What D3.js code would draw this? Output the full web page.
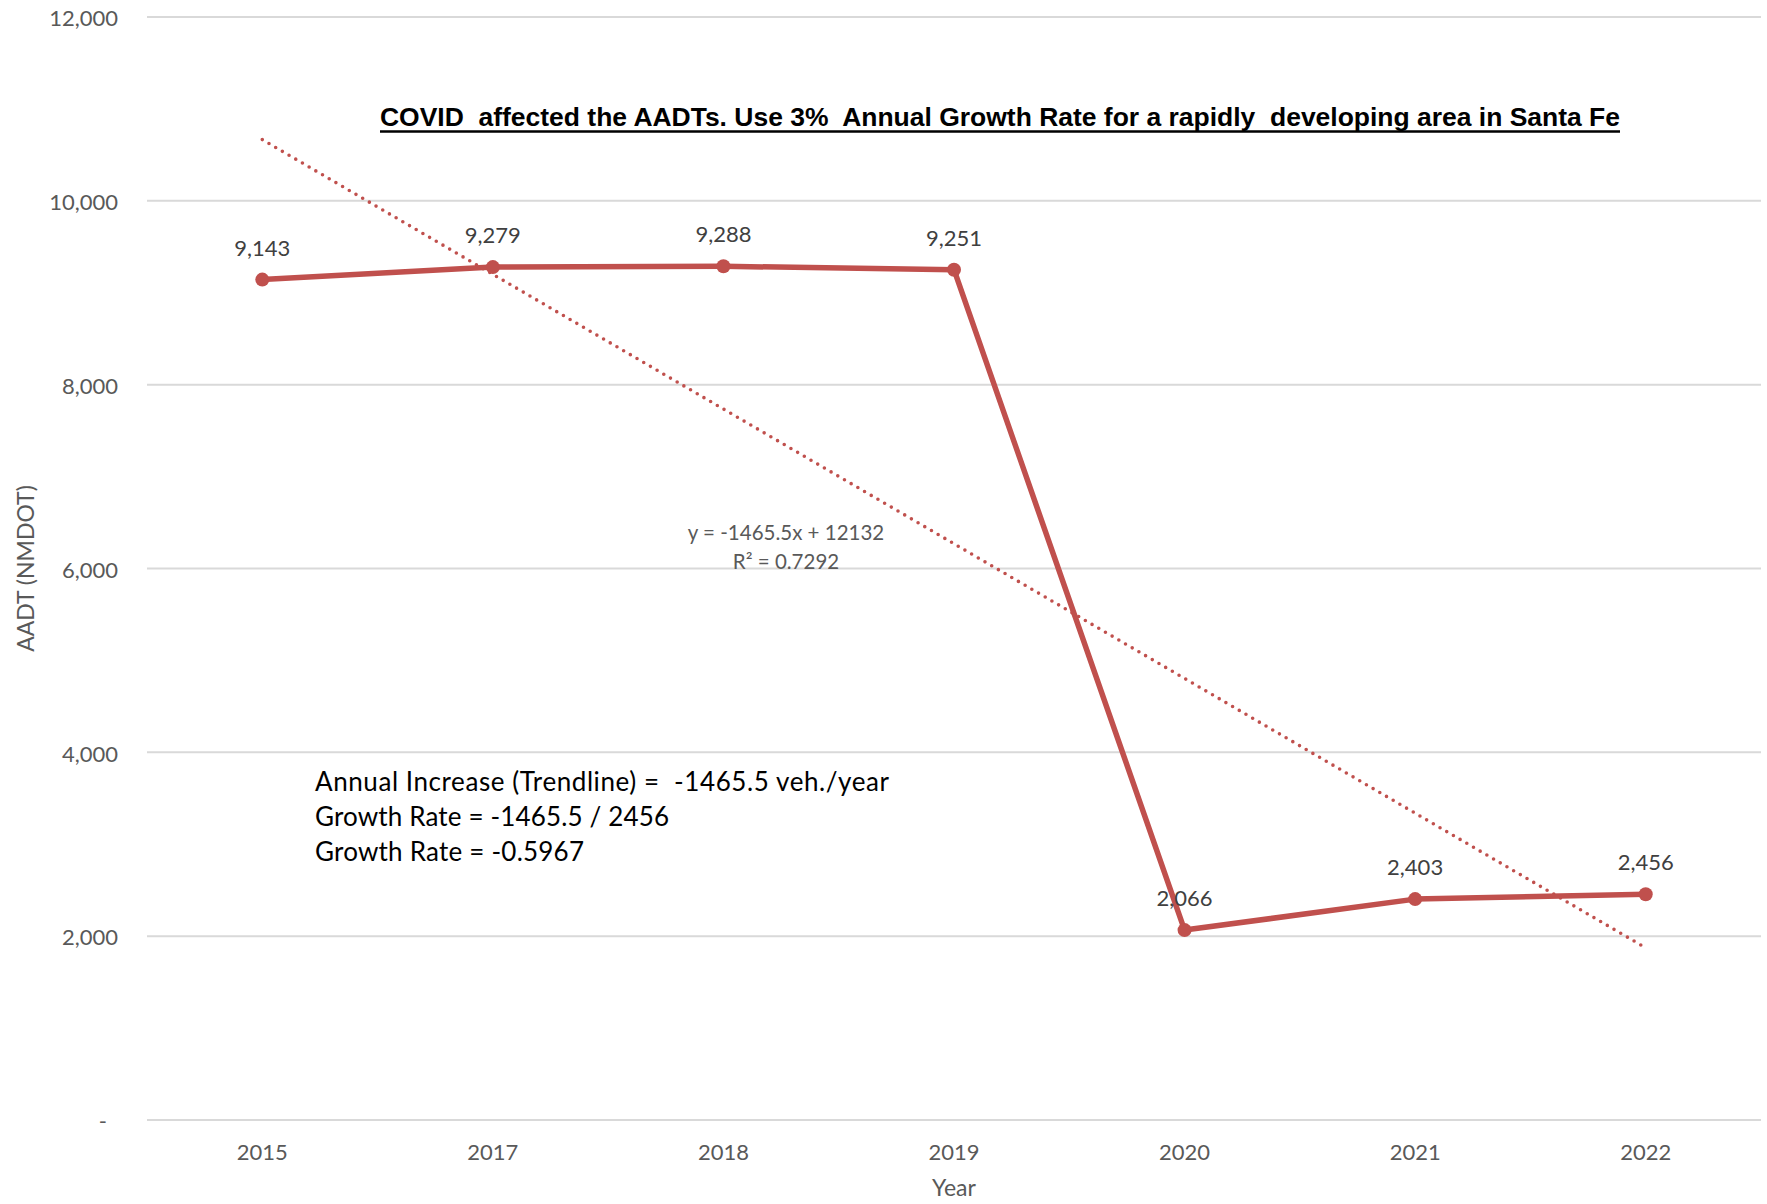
<!DOCTYPE html>
<html>
<head>
<meta charset="utf-8">
<script src="https://cdn.jsdelivr.net/npm/d3@7"></script>
<style>
  html, body { margin: 0; padding: 0; background: #fff; }
  svg { display: block; }
  text { white-space: pre; }
</style>
</head>
<body>
<div id="chart"></div>
<script>
// ---- Data ----
const years = ["2015", "2017", "2018", "2019", "2020", "2021", "2022"];
const aadt = [9143, 9279, 9288, 9251, 2066, 2403, 2456];
const yTicks = [0, 2000, 4000, 6000, 8000, 10000, 12000];
const titleText = "COVID  affected the AADTs. Use 3%  Annual Growth Rate for a rapidly  developing area in Santa Fe";
const noteLines = [
  "Annual Increase (Trendline) =  -1465.5 veh./year",
  "Growth Rate = -1465.5 / 2456",
  "Growth Rate = -0.5967"
];
const noteWidths = [574, 354, 269];
const r2Text = "R\u00B2 = 0.7292";
const yAxisTitle = "AADT (NMDOT)";
const xAxisTitle = "Year";

// ---- Layout ----
const W = 1767, H = 1204;
const plotL = 147, plotR = 1761, plotT = 17, plotB = 1120;
const red = "#C0504D";
const font = "Lato, 'Open Sans', sans-serif";

const svg = d3.select("#chart").append("svg")
  .attr("width", W).attr("height", H);

const x = d3.scaleBand().domain(years).range([plotL, plotR]).padding(0);
const y = d3.scaleLinear().domain([0, 12000]).range([plotB, plotT]);
const cx = d => x(d) + x.bandwidth() / 2;
const fmtInt = d3.formatLocale({decimal: ".", thousands: ",", grouping: [3], currency: ["", ""], minus: "-"});
const fmtComma = fmtInt.format(",");
const fmt1 = fmtInt.format(".1f");

// Gridlines
svg.append("g").selectAll("line").data(yTicks).join("line")
  .attr("x1", plotL).attr("x2", plotR)
  .attr("y1", d => y(d)).attr("y2", d => y(d))
  .attr("stroke", "#d9d9d9").attr("stroke-width", 2);

// Y axis labels
const yAxis = d3.axisLeft(y).tickValues(yTicks)
  .tickFormat(d => d === 0 ? "-" : fmtComma(d))
  .tickSize(0).tickPadding(0);
const gy = svg.append("g").attr("transform", `translate(118,0)`).call(yAxis);
gy.select(".domain").remove();
gy.selectAll("text")
  .attr("font-family", font).attr("font-size", 22).attr("fill", "#595959")
  .attr("dy", "0.4em")
  .attr("x", d => d === 0 ? -11 : 0);

// X axis labels
const xAxis = d3.axisBottom(x).tickSize(0).tickPadding(0);
const gx = svg.append("g").attr("transform", `translate(0,${plotB})`).call(xAxis);
gx.select(".domain").remove();
gx.selectAll("text")
  .attr("font-family", font).attr("font-size", 22).attr("fill", "#595959")
  .attr("dy", null).attr("y", 40);

// Axis titles
svg.append("text")
  .attr("transform", `translate(34,${(plotT + plotB) / 2}) rotate(-90)`)
  .attr("text-anchor", "middle")
  .attr("font-family", font).attr("font-size", 23).attr("fill", "#595959")
  .text(yAxisTitle);
svg.append("text")
  .attr("x", (plotL + plotR) / 2).attr("y", 1196)
  .attr("text-anchor", "middle")
  .attr("font-family", font).attr("font-size", 23).attr("fill", "#595959")
  .text(xAxisTitle);

// Linear trendline (least squares on x = 1..n)
const n = aadt.length;
const xs = d3.range(1, n + 1);
const mx = d3.mean(xs), my = d3.mean(aadt);
const slope = d3.sum(xs, (v, i) => (v - mx) * (aadt[i] - my)) / d3.sum(xs, v => (v - mx) ** 2);
const intercept = my - slope * mx;
const trend = [
  [cx(years[0]), y(slope * 1 + intercept)],
  [cx(years[n - 1]), y(slope * n + intercept)]
];
svg.append("path")
  .attr("d", d3.line()(trend))
  .attr("fill", "none").attr("stroke", red)
  .attr("stroke-width", 3.6).attr("stroke-linecap", "round")
  .attr("stroke-dasharray", "0 7.75");

// Series line
svg.append("path")
  .datum(aadt)
  .attr("d", d3.line().x((d, i) => cx(years[i])).y(d => y(d)))
  .attr("fill", "none").attr("stroke", red)
  .attr("stroke-width", 5.5).attr("stroke-linejoin", "round");

svg.append("g").selectAll("circle").data(aadt).join("circle")
  .attr("cx", (d, i) => cx(years[i])).attr("cy", d => y(d))
  .attr("r", 7).attr("fill", red);

// Data labels
svg.append("g").selectAll("text").data(aadt).join("text")
  .attr("x", (d, i) => cx(years[i]))
  .attr("y", d => y(d) - 24)
  .attr("text-anchor", "middle")
  .attr("font-family", font).attr("font-size", 22).attr("fill", "#404040")
  .text(d => fmtComma(d));

// Trendline equation
const eq = svg.append("text")
  .attr("text-anchor", "middle")
  .attr("font-family", font).attr("font-size", 20.5).attr("fill", "#595959");
eq.append("tspan").attr("x", 786).attr("y", 540)
  .text(`y = ${fmt1(slope)}x + ${Math.round(intercept)}`);
eq.append("tspan").attr("x", 786).attr("y", 569)
  .text(r2Text);

// Title
svg.append("text")
  .attr("x", 380).attr("y", 126)
  .attr("font-family", "'Liberation Sans', Arial, sans-serif")
  .attr("font-weight", "bold").attr("font-size", 25).attr("fill", "#000")
  .attr("textLength", 1240).attr("lengthAdjust", "spacingAndGlyphs")
  .text(titleText);
svg.append("line")
  .attr("x1", 380).attr("x2", 1620).attr("y1", 131.5).attr("y2", 131.5)
  .attr("stroke", "#000").attr("stroke-width", 2.5);

// Annotation
svg.append("g").selectAll("text").data(noteLines).join("text")
  .attr("x", 315).attr("y", (d, i) => 791 + i * 35)
  .attr("font-family", font).attr("font-size", 26).attr("fill", "#000")
  .attr("textLength", (d, i) => noteWidths[i]).attr("lengthAdjust", "spacing")
  .text(d => d);
</script>
</body>
</html>
